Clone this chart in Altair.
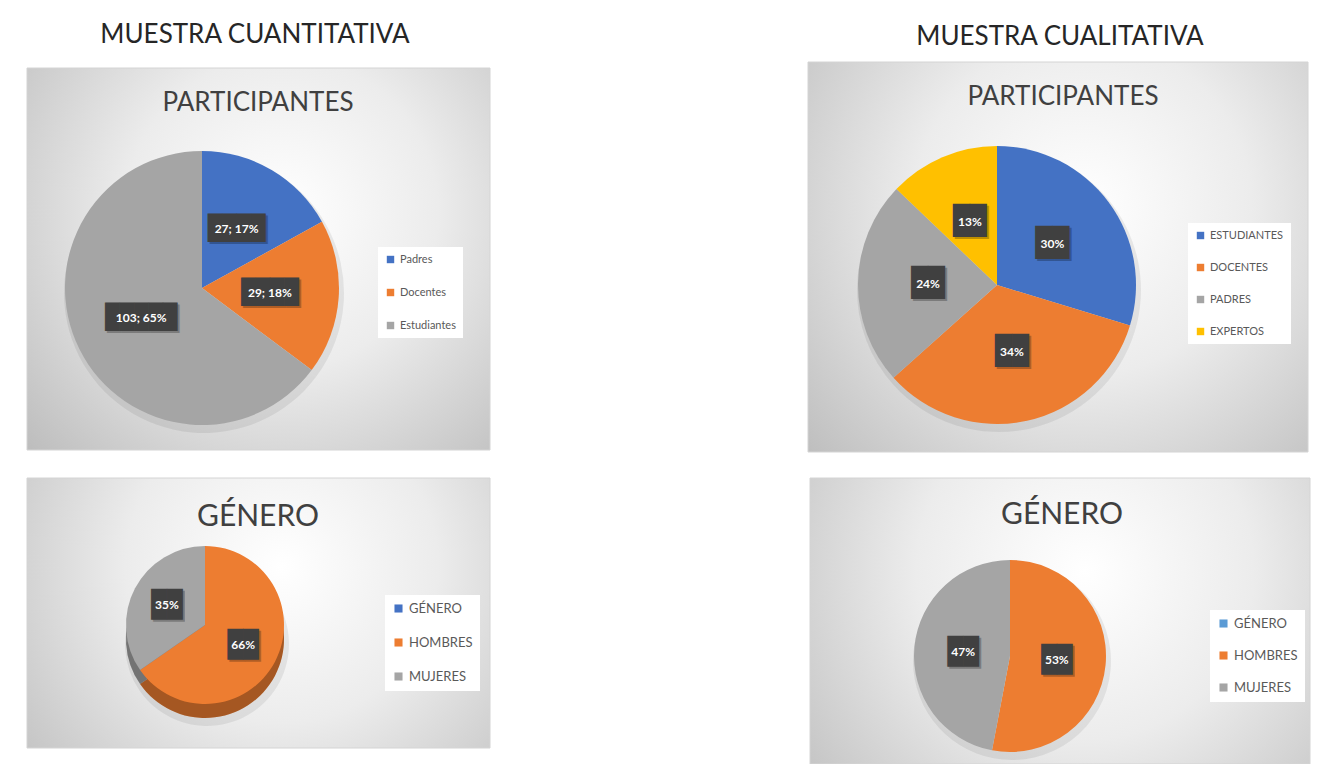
import altair as alt
import pandas as pd

W, H = 1308, 756

# ---------------- data ----------------
section_titles = ["MUESTRA CUANTITATIVA", "MUESTRA CUALITATIVA"]
panel_titles = ["PARTICIPANTES", "PARTICIPANTES", "GÉNERO", "GÉNERO"]

cuant_part_cats = ["Padres", "Docentes", "Estudiantes"]
cuant_part_vals = [27, 29, 103]

cual_part_cats = ["ESTUDIANTES", "DOCENTES", "PADRES", "EXPERTOS"]
cual_part_vals = [30, 34, 24, 13]

cuant_gen_cats = ["GÉNERO", "HOMBRES", "MUJERES"]
cuant_gen_vals = [0, 66, 35]

cual_gen_cats = ["GÉNERO", "HOMBRES", "MUJERES"]
cual_gen_vals = [0, 53, 47]

cuant_part_colors = ["#4472C4", "#ED7D31", "#A5A5A5"]
cual_part_colors = ["#4472C4", "#ED7D31", "#A5A5A5", "#FFC000"]
cuant_gen_colors = ["#4472C4", "#ED7D31", "#A5A5A5"]
cual_gen_colors = ["#5B9BD5", "#ED7D31", "#A5A5A5"]

_tot = sum(cuant_part_vals)
cuant_part_lbls = [f"{v}; {round(100 * v / _tot)}%" for v in cuant_part_vals]
cual_part_lbls = [f"{v}%" for v in cual_part_vals]
cuant_gen_lbls = [f"{v}%" for v in cuant_gen_vals]
cual_gen_lbls = [f"{v}%" for v in cual_gen_vals]

FONT = "Lato, sans-serif"

grad = {
    "gradient": "radial",
    "x1": 0.55, "y1": 0.4, "r1": 0,
    "x2": 0.55, "y2": 0.4, "r2": 0.75,
    "stops": [
        {"offset": 0, "color": "#ffffff"},
        {"offset": 0.45, "color": "#ececec"},
        {"offset": 1, "color": "#bdbdbd"},
    ],
}

one = alt.Data(values=[{"a": 1}])


def bg(x, y, x2, y2):
    return alt.Chart(one).mark_rect(fill=grad, stroke="#d4d4d4", strokeWidth=1).encode(
        x=alt.value(x), x2=alt.value(x2), y=alt.value(y), y2=alt.value(y2)
    )


def txt(s, x, y, size, color, weight="normal"):
    return alt.Chart(one).mark_text(
        font=FONT, fontSize=size, color=color, fontWeight=weight,
        align="center", baseline="middle"
    ).encode(x=alt.value(x), y=alt.value(y), text=alt.value(s))


def panel(cats, vals, lbls, colors, cx, cy, r, lr, lx, ly, lfont, lrow,
          bfont, tfont, depth=0):
    df = pd.DataFrame({
        "cat": cats, "val": vals, "lbl": lbls, "idx": list(range(len(cats)))
    })
    df["box"] = ["\u2588" * (len(s) // 2 + 1) for s in lbls]
    color = alt.Color(
        "cat:N",
        scale=alt.Scale(domain=cats, range=colors),
        legend=alt.Legend(
            orient="none", legendX=lx, legendY=ly, title=None,
            direction="vertical", symbolType="square",
            symbolSize=lfont * 5, symbolStrokeWidth=0,
            labelFontSize=lfont, labelFont=FONT, labelColor="#595959",
            rowPadding=lrow, fillColor="#ffffff", padding=7,
        ),
    )
    base = alt.Chart(df).encode(
        theta=alt.Theta("val:Q", stack=True),
        order=alt.Order("idx:Q", sort="ascending"),
    )
    P = dict(x=alt.value(cx), y=alt.value(cy))
    layers = [
        base.mark_arc(outerRadius=r + 3, color="#000000", opacity=0.07).encode(
            x=alt.value(cx + 2), y=alt.value(cy + depth + 5), detail="cat:N"
        )
    ]
    if depth:
        layers.append(base.mark_arc(outerRadius=r, strokeWidth=0).encode(
            x=alt.value(cx), y=alt.value(cy + depth), color=color))
        layers.append(base.mark_arc(outerRadius=r, color="#000000", opacity=0.3).encode(
            x=alt.value(cx), y=alt.value(cy + depth), detail="cat:N"))
    layers.append(base.mark_arc(outerRadius=r, strokeWidth=0).encode(color=color, **P))
    lab = base.transform_filter("datum.val > 0")
    layers.append(lab.mark_text(
        radius=lr, font="DejaVu Sans Mono", fontSize=bfont, color="#000000",
        opacity=0.25, dx=2, dy=2, baseline="middle", align="center"
    ).encode(text="box:N", detail="cat:N", **P))
    layers.append(lab.mark_text(
        radius=lr, font="DejaVu Sans Mono", fontSize=bfont, color="#404040",
        baseline="middle", align="center"
    ).encode(text="box:N", detail="cat:N", **P))
    layers.append(lab.mark_text(
        radius=lr, font=FONT, fontSize=tfont, fontWeight="bold", color="#ffffff",
        baseline="middle", align="center"
    ).encode(text="lbl:N", detail="cat:N", **P))
    return alt.layer(*layers)


p1 = panel(cuant_part_cats, cuant_part_vals, cuant_part_lbls, cuant_part_colors,
           194, 280, 137, 68, 370, 239, 11, 21, 24, 12)
p2 = panel(cual_part_cats, cual_part_vals, cual_part_lbls, cual_part_colors,
           989, 277, 139, 69, 1180, 215, 11, 20, 28, 12)
p3 = panel(cuant_gen_cats, cuant_gen_vals, cuant_gen_lbls, cuant_gen_colors,
           197, 617, 79, 43, 377, 587, 13, 20, 26, 12, depth=14)
p4 = panel(cual_gen_cats, cual_gen_vals, cual_gen_lbls, cual_gen_colors,
           1002, 648, 96, 47, 1202, 602, 13, 18, 26, 12)

chart = alt.layer(
    bg(19, 60, 482, 442),
    bg(800, 54, 1300, 444),
    bg(19, 470, 482, 740),
    bg(802, 470, 1302, 756),
    txt(section_titles[0], 247, 27, 26, "#262626"),
    txt(section_titles[1], 1052, 29, 26, "#262626"),
    txt(panel_titles[0], 250, 95, 26, "#404040"),
    txt(panel_titles[1], 1055, 89, 26, "#404040"),
    txt(panel_titles[2], 250, 509, 30, "#404040"),
    txt(panel_titles[3], 1054, 507, 30, "#404040"),
    p1, p2, p3, p4,
).resolve_scale(
    theta="independent", color="independent"
).properties(
    width=W, height=H, padding=0, autosize=alt.AutoSizeParams(type="none"),
    background="#ffffff"
).configure_view(stroke=None)

chart.save("out.html", embed_options={"renderer": "svg", "actions": False})
